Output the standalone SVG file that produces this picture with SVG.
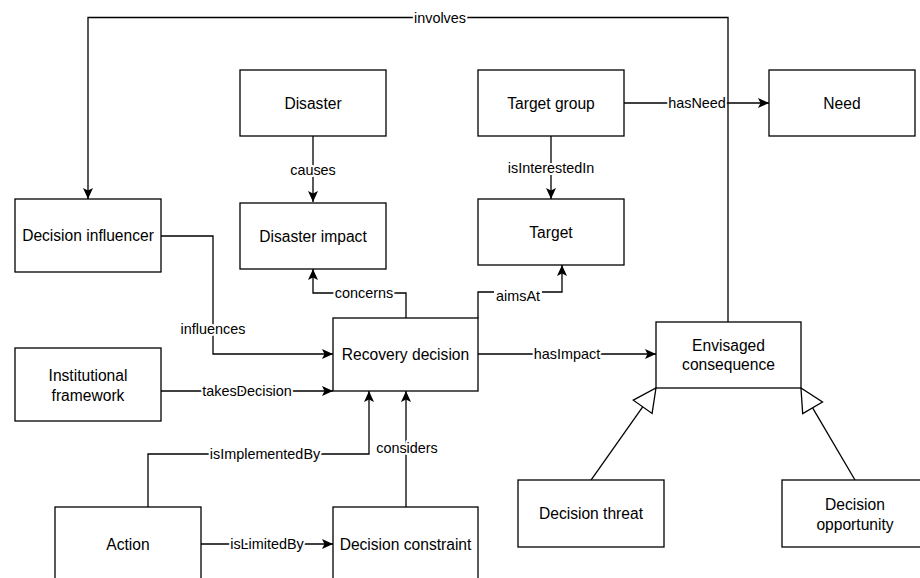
<svg xmlns="http://www.w3.org/2000/svg" width="920" height="578" viewBox="0 0 920 578">
<style>
.n rect{fill:#fff;stroke:#000;stroke-width:1.3}
.n text{font-family:"Liberation Sans",Arial,sans-serif;font-size:15.6px;fill:#000;text-anchor:middle}
.e path{fill:none;stroke:#000;stroke-width:1.3}
.e text{font-family:"Liberation Sans",Arial,sans-serif;font-size:14.4px;fill:#000;text-anchor:middle;stroke:#fff;stroke-width:4;paint-order:stroke;stroke-linejoin:round}
.e rect{fill:#fff;stroke:none}
.a{marker-end:url(#arr)}
.g{marker-end:url(#tri)}
</style>
<defs>
<marker id="arr" viewBox="0 0 11 10" refX="11" refY="5" markerWidth="11" markerHeight="10" markerUnits="userSpaceOnUse" orient="auto"><path d="M0,0 L11,5 L0,10 L2.5,5 Z" fill="#000"/></marker>
<marker id="tri" viewBox="-1 -13 26 26" refX="0" refY="0" markerWidth="26" markerHeight="26" markerUnits="userSpaceOnUse" orient="auto" overflow="visible"><path d="M0,-11.5 L23,0 L0,11.5 Z" fill="#fff" stroke="#000" stroke-width="1.3"/></marker>
</defs>
<rect width="920" height="578" fill="#fff"/>
<g id="connectors" class="e">
<path class="a" d="M313,136 V202"/><text x="313" y="175">causes</text>
<path class="a" d="M551,136 V199"/><text x="551" y="173">isInterestedIn</text>
<path class="a" d="M624,103 H769"/><text x="697" y="108">hasNeed</text>
<path class="a" d="M728,322 V17.5 H88 V199"/><text x="440" y="22.5">involves</text>
<path class="a" d="M161,236 H213 V354 H333"/><text x="213" y="334">influences</text>
<path class="a" d="M406,318 V293 H313 V269"/><text x="364" y="298">concerns</text>
<path class="a" d="M478,318 V292 H562 V265"/><rect x="494" y="287" width="48" height="17"/><text x="518" y="301">aimsAt</text>
<path class="a" d="M161,391 H333"/><text x="247" y="396">takesDecision</text>
<path class="a" d="M478,354 H656"/><text x="567" y="359">hasImpact</text>
<path class="a" d="M148,507 V454 H369 V391"/><text x="265" y="459">isImplementedBy</text>
<path class="a" d="M406,507 V391"/><text x="407" y="453">considers</text>
<path class="a" d="M201,544 H333"/><text x="267" y="549">isLimitedBy</text>
<path class="g" d="M591,480 L642.7,406.8"/>
<path class="g" d="M855,480 L812.6,407.8"/>
</g>
<g id="disaster" class="n"><rect x="240" y="70" width="146" height="66"/><text x="313" y="108.5">Disaster</text></g>
<g id="target-group" class="n"><rect x="478" y="70" width="146" height="66"/><text x="551" y="108.5">Target group</text></g>
<g id="need" class="n"><rect x="769" y="70" width="146" height="66"/><text x="842" y="108.5">Need</text></g>
<g id="decision-influencer" class="n"><rect x="15" y="199" width="146" height="73"/><text x="88" y="241">Decision influencer</text></g>
<g id="disaster-impact" class="n"><rect x="240" y="203" width="146" height="66"/><text x="313" y="241.5">Disaster impact</text></g>
<g id="target" class="n"><rect x="478" y="199" width="146" height="66"/><text x="551" y="237.5">Target</text></g>
<g id="recovery-decision" class="n"><rect x="333" y="318" width="145" height="73"/><text x="405.5" y="360">Recovery decision</text></g>
<g id="institutional-framework" class="n"><rect x="15" y="348" width="146" height="73"/><text x="88" y="381">Institutional</text><text x="88" y="400.5">framework</text></g>
<g id="envisaged-consequence" class="n"><rect x="656" y="322" width="145" height="66"/><text x="728.5" y="350.5">Envisaged</text><text x="728.5" y="370">consequence</text></g>
<g id="decision-threat" class="n"><rect x="518" y="480" width="146" height="67"/><text x="591" y="519">Decision threat</text></g>
<g id="decision-opportunity" class="n"><rect x="782" y="480" width="146" height="67"/><text x="855" y="509.5">Decision</text><text x="855" y="529.5">opportunity</text></g>
<g id="action" class="n"><rect x="55" y="507" width="146" height="73"/><text x="128" y="549.5">Action</text></g>
<g id="decision-constraint" class="n"><rect x="333" y="507" width="145" height="73"/><text x="405.5" y="549.5">Decision constraint</text></g>
</svg>
